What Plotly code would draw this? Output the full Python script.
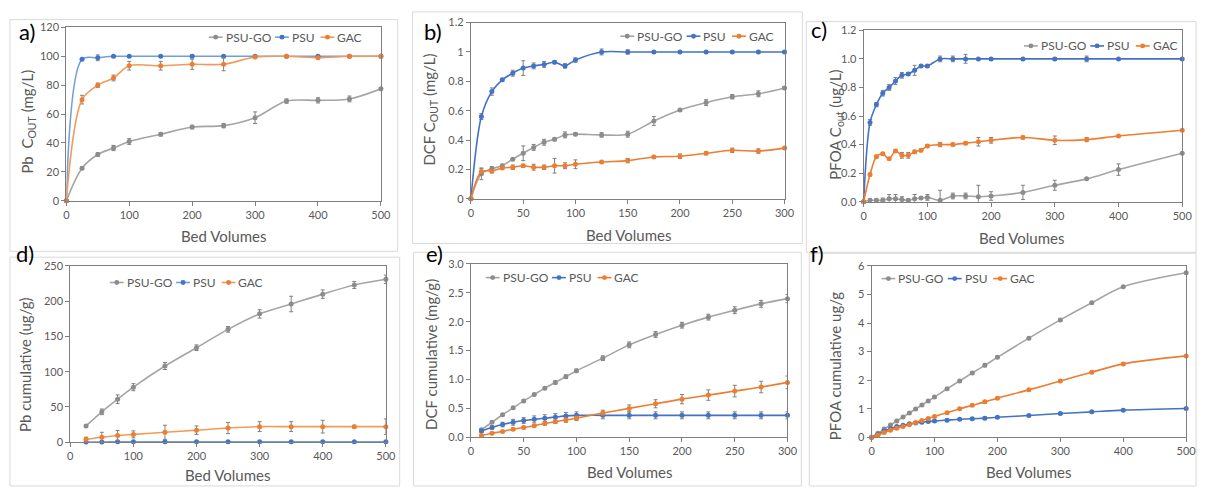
import plotly.graph_objects as go

W, H = 1212, 490
FONT = "Lato"

# ---------------- data ----------------
# a) Pb C_out
bv_a = [0, 25, 50, 75, 100, 150, 200, 250, 300, 350, 400, 450, 500]
pb_psugo = [0, 22.5, 32, 36.5, 41, 46, 51, 52, 57.5, 69, 69.5, 70.5, 77.5]
pb_psugo_err = [0, 1, 1.2, 1.8, 2, 1.2, 1.2, 1.5, 4, 1.5, 1.8, 2, 0.8]
pb_psu = [0, 98, 99, 100, 100, 100, 100, 100, 100, 100, 100, 100, 100]
pb_psu_err = [0, 0.5, 2, 0.5, 0.3, 0.3, 1, 0.3, 0.3, 0.3, 0.3, 0.3, 0.3]
pb_gac = [0, 70, 80, 85, 93.5, 93.5, 94.5, 94.5, 99.5, 100, 99, 100, 100]
pb_gac_err = [0, 3, 1.5, 2, 3, 3, 3.5, 4.5, 0.5, 0.5, 0.5, 0.3, 0.3]

# b) DCF C_out
bv_b = [0, 10, 20, 30, 40, 50, 60, 70, 80, 90, 100, 125, 150, 175, 200, 225, 250, 275, 300]
dcf_psugo = [0, 0.17, 0.205, 0.225, 0.27, 0.31, 0.35, 0.385, 0.405, 0.435, 0.44, 0.435, 0.44, 0.53, 0.605, 0.655, 0.695, 0.715, 0.755]
dcf_psugo_err = [0, 0.04, 0.015, 0.01, 0.005, 0.05, 0.02, 0.02, 0.01, 0.02, 0.01, 0.015, 0.02, 0.03, 0.005, 0.02, 0.015, 0.02, 0.01]
dcf_psu = [0, 0.56, 0.73, 0.81, 0.855, 0.89, 0.905, 0.915, 0.93, 0.905, 0.945, 1.0, 1.0, 1.0, 1.0, 1.0, 1.0, 1.0, 1.0]
dcf_psu_err = [0, 0.02, 0.025, 0.01, 0.02, 0.05, 0.02, 0.02, 0.01, 0.015, 0.015, 0.02, 0.015, 0.005, 0.005, 0.005, 0.005, 0.005, 0.005]
dcf_gac = [0, 0.185, 0.19, 0.21, 0.215, 0.225, 0.215, 0.215, 0.225, 0.225, 0.235, 0.25, 0.26, 0.285, 0.29, 0.31, 0.33, 0.325, 0.345]
dcf_gac_err = [0, 0.02, 0.015, 0.01, 0.015, 0.01, 0.02, 0.015, 0.05, 0.02, 0.03, 0.005, 0.015, 0.01, 0.015, 0.01, 0.015, 0.015, 0.005]

# c) PFOA C_out
bv_c = [0, 10, 20, 30, 40, 50, 60, 70, 80, 90, 100, 120, 140, 160, 180, 200, 250, 300, 350, 400, 500]
pfoa_psugo = [0, 0.01, 0.01, 0.01, 0.02, 0.02, 0.015, 0.01, 0.02, 0.025, 0.03, 0.01, 0.04, 0.04, 0.035, 0.04, 0.065, 0.115, 0.16, 0.225, 0.34]
pfoa_psugo_err = [0, 0.01, 0.01, 0.015, 0.03, 0.03, 0.02, 0.01, 0.03, 0.01, 0.02, 0.07, 0.02, 0.02, 0.08, 0.03, 0.05, 0.035, 0.005, 0.04, 0.005]
pfoa_psu = [0, 0.555, 0.68, 0.76, 0.80, 0.845, 0.885, 0.895, 0.92, 0.95, 0.95, 1.0, 1.0, 1.0, 1.0, 1.0, 1.0, 1.0, 1.0, 1.0, 1.0]
pfoa_psu_err = [0, 0.02, 0.015, 0.02, 0.02, 0.025, 0.02, 0.01, 0.035, 0.01, 0.01, 0.02, 0.02, 0.03, 0.005, 0.005, 0.005, 0.01, 0.02, 0.005, 0.005]
pfoa_gac = [0, 0.19, 0.315, 0.335, 0.30, 0.355, 0.325, 0.325, 0.35, 0.36, 0.39, 0.40, 0.40, 0.41, 0.42, 0.43, 0.45, 0.43, 0.435, 0.46, 0.50]
pfoa_gac_err = [0, 0.01, 0.01, 0.01, 0.005, 0.01, 0.02, 0.02, 0.01, 0.01, 0.01, 0.015, 0.01, 0.01, 0.03, 0.02, 0.01, 0.03, 0.015, 0.005, 0.005]

# d) Pb cumulative
bv_d = [25, 50, 75, 100, 150, 200, 250, 300, 350, 400, 450, 500]
cpb_psugo = [23, 43, 61, 78, 108, 134, 160, 182, 196, 210, 223, 231]
cpb_psugo_err = [2, 4, 6, 5, 5, 4, 4, 6, 11, 6, 5, 6]
cpb_psu = [0.3, 0.3, 0.5, 0.5, 0.5, 0.5, 0.5, 0.5, 0.5, 0.5, 0.5, 0.5]
cpb_psu_err = [0.3, 0.3, 0.3, 0.3, 0.3, 0.3, 0.3, 0.3, 0.3, 0.3, 0.3, 0.3]
cpb_gac = [4, 7, 9.5, 11, 14, 17, 20, 22, 22, 22, 22, 22]
cpb_gac_err = [3, 7, 7, 5, 10, 6, 8, 7, 7, 9, 2, 11]

# e) DCF cumulative
bv_e = [10, 20, 30, 40, 50, 60, 70, 80, 90, 100, 125, 150, 175, 200, 225, 250, 275, 300]
cdcf_psugo = [0.13, 0.26, 0.39, 0.51, 0.63, 0.74, 0.85, 0.95, 1.05, 1.15, 1.37, 1.60, 1.78, 1.94, 2.08, 2.20, 2.31, 2.40]
cdcf_psugo_err = [0.02, 0.02, 0.02, 0.02, 0.02, 0.02, 0.02, 0.03, 0.03, 0.03, 0.04, 0.05, 0.05, 0.05, 0.05, 0.06, 0.06, 0.07]
cdcf_psu = [0.11, 0.17, 0.22, 0.26, 0.29, 0.31, 0.33, 0.35, 0.37, 0.38, 0.38, 0.38, 0.38, 0.38, 0.38, 0.38, 0.38, 0.38]
cdcf_psu_err = [0.03, 0.03, 0.04, 0.05, 0.05, 0.06, 0.06, 0.06, 0.06, 0.06, 0.06, 0.06, 0.06, 0.06, 0.06, 0.06, 0.06, 0.06]
cdcf_gac = [0.03, 0.07, 0.10, 0.14, 0.17, 0.20, 0.24, 0.27, 0.30, 0.33, 0.42, 0.50, 0.58, 0.66, 0.73, 0.80, 0.87, 0.95]
cdcf_gac_err = [0.01, 0.01, 0.01, 0.02, 0.02, 0.02, 0.03, 0.03, 0.04, 0.04, 0.05, 0.06, 0.07, 0.08, 0.09, 0.10, 0.10, 0.11]

# f) PFOA cumulative
bv_f = [0, 10, 20, 30, 40, 50, 60, 70, 80, 90, 100, 120, 140, 160, 180, 200, 250, 300, 350, 400, 500]
cpfoa_psugo = [0, 0.14, 0.29, 0.43, 0.57, 0.71, 0.85, 0.99, 1.13, 1.27, 1.41, 1.70, 1.97, 2.25, 2.52, 2.80, 3.47, 4.11, 4.71, 5.27, 5.76]
cpfoa_psu = [0, 0.09, 0.22, 0.30, 0.38, 0.42, 0.47, 0.50, 0.53, 0.55, 0.57, 0.60, 0.63, 0.65, 0.67, 0.70, 0.76, 0.83, 0.89, 0.95, 1.01]
cpfoa_gac = [0, 0.07, 0.17, 0.25, 0.32, 0.38, 0.44, 0.52, 0.59, 0.66, 0.73, 0.86, 1.00, 1.12, 1.24, 1.37, 1.66, 1.97, 2.28, 2.57, 2.85]
cpfoa_err = [0, 0.02, 0.02, 0.02, 0.02, 0.02, 0.02, 0.02, 0.03, 0.03, 0.03, 0.04, 0.03, 0.03, 0.05, 0.03, 0.03, 0.03, 0.03, 0.03, 0.03]

series_names = ["PSU-GO", "PSU", "GAC"]
line_colors = ["#A5A5A5", "#4472C4", "#ED7D31"]
light_line_colors = ["#A5A5A5", "#6FA0DC", "#F29A5C"]
marker_colors = ["#8C8C8C", "#4472C4", "#ED7D31"]

# ---------------- layout helpers ----------------
def px_x(x):
    return x / W

def px_y(y):
    return 1 - y / H

# plot areas in pixels: (left, right, top, bottom)
areas = [
    (64, 382, 21, 199),
    (473, 790, 16, 197),
    (870, 1192, 24, 200),
    (68, 387, 266, 447),
    (473, 793, 264, 442),
    (878, 1196, 266, 442),
]

panels = [
    dict(x=bv_a, ys=[pb_psugo, pb_psu, pb_gac], errs=[pb_psugo_err, pb_psu_err, pb_gac_err],
         xr=[0, 500], xd=100, yr=[0, 120], yd=20, fmt="", light=True),
    dict(x=bv_b, ys=[dcf_psugo, dcf_psu, dcf_gac], errs=[dcf_psugo_err, dcf_psu_err, dcf_gac_err],
         xr=[0, 300], xd=50, yr=[0, 1.2], yd=0.2, fmt="", light=False),
    dict(x=bv_c, ys=[pfoa_psugo, pfoa_psu, pfoa_gac], errs=[pfoa_psugo_err, pfoa_psu_err, pfoa_gac_err],
         xr=[0, 500], xd=100, yr=[0, 1.2], yd=0.2, fmt=".1f", light=False),
    dict(x=bv_d, ys=[cpb_psugo, cpb_psu, cpb_gac], errs=[cpb_psugo_err, cpb_psu_err, cpb_gac_err],
         xr=[0, 500], xd=100, yr=[0, 250], yd=50, fmt="", light=True),
    dict(x=bv_e, ys=[cdcf_psugo, cdcf_psu, cdcf_gac], errs=[cdcf_psugo_err, cdcf_psu_err, cdcf_gac_err],
         xr=[0, 300], xd=50, yr=[0, 3.0], yd=0.5, fmt=".1f", light=False),
    dict(x=bv_f, ys=[cpfoa_psugo, cpfoa_psu, cpfoa_gac], errs=[cpfoa_err, cpfoa_err, cpfoa_err],
         xr=[0, 500], xd=100, yr=[0, 6], yd=1, fmt="", light=False),
]

# legend: symbol left px, center-y px (one legend per panel)
legend_pos = [(208, 31), (624, 30), (1032, 40), (108, 283), (488, 278), (888, 279)]
legend_offsets = [0, 67, 113]  # px offsets of the three entries

fig = go.Figure()
layout = dict(
    width=W, height=H, margin=dict(l=0, r=0, t=0, b=0),
    paper_bgcolor="white", plot_bgcolor="white",
    font=dict(family=FONT, color="#595959"),
    showlegend=False,
)

shapes = []
annotations = []

for i, (p, area) in enumerate(zip(panels, areas)):
    n = "" if i == 0 else str(i + 1)
    lcols = light_line_colors if p["light"] else line_colors
    for k in range(3):
        fig.add_trace(go.Scatter(
            x=p["x"], y=p["ys"][k], name=series_names[k],
            mode="lines+markers",
            line=dict(color=lcols[k], width=1.6, shape="spline", smoothing=0.9),
            marker=dict(color=marker_colors[k], size=5),
            error_y=dict(type="data", array=p["errs"][k], visible=True,
                         color="#808080", thickness=1, width=2),
            xaxis="x" + n, yaxis="y" + n,
            cliponaxis=False,
        ))
    l, r, t, b = area
    axis_common = dict(showgrid=False, zeroline=False, showline=True, linecolor="#7F7F7F",
                       linewidth=1, mirror=True, ticks="outside", ticklen=4,
                       tickcolor="#7F7F7F", tickfont=dict(family=FONT, size=11, color="#595959"))
    layout["xaxis" + n] = dict(domain=[px_x(l), px_x(r)], range=p["xr"], dtick=p["xd"], tick0=0,
                               anchor="y" + n, **axis_common)
    layout["yaxis" + n] = dict(domain=[px_y(b), px_y(t)], range=p["yr"], dtick=p["yd"], tick0=0,
                               tickformat=p["fmt"], anchor="x" + n, **axis_common)

    # legend entries (line swatch + marker + label)
    lx, ly = legend_pos[i]
    for k in range(3):
        sx = lx + legend_offsets[k]
        shapes.append(dict(type="line", xref="paper", yref="paper",
                           x0=px_x(sx), x1=px_x(sx + 14), y0=px_y(ly), y1=px_y(ly),
                           line=dict(color=lcols[k], width=1.6)))
        shapes.append(dict(type="circle", xref="paper", yref="paper",
                           x0=px_x(sx + 4.5), x1=px_x(sx + 9.5), y0=px_y(ly + 2.5), y1=px_y(ly - 2.5),
                           fillcolor=marker_colors[k], line=dict(color=marker_colors[k], width=0)))
        annotations.append(dict(text=series_names[k], x=px_x(sx + 15), y=px_y(ly),
                                xref="paper", yref="paper", showarrow=False,
                                xanchor="left", yanchor="middle",
                                font=dict(family=FONT, size=12, color="#595959")))

# outer chart frames
frames = [
    (7, 13, 399, 251), (414, 5, 808, 243), (812, 15, 1206, 252),
    (7, 257, 401, 492), (415, 252, 807, 492), (815, 253, 1206, 492),
]
for (x0, y0, x1, y1) in frames:
    shapes.append(dict(type="rect", xref="paper", yref="paper",
                       x0=px_x(x0), x1=px_x(x1), y0=px_y(y1), y1=px_y(y0),
                       line=dict(color="#D9D9D9", width=1), layer="below"))
layout["shapes"] = shapes

# panel labels
labels = [("a)", 24, 25), ("b)", 435, 25), ("c)", 825, 23),
          ("d)", 22, 253), ("e)", 436, 253), ("f)", 823, 253)]
for txt, x, y in labels:
    annotations.append(dict(text=txt, x=px_x(x), y=px_y(y), xref="paper", yref="paper",
                            showarrow=False, xanchor="center", yanchor="middle",
                            font=dict(family=FONT, size=22, color="black")))
# y titles
ytitles = [("Pb  C<sub>OUT</sub> (mg/L)", 25, 118), ("DCF C<sub>OUT</sub> (mg/L)", 432, 105),
           ("PFOA C<sub>out</sub> (ug/L)", 842, 121), ("Pb cumulative (ug/g)", 23, 367),
           ("DCF cumulative (mg/g)", 432, 357), ("PFOA cumulative ug/g", 841, 368)]
for txt, x, y in ytitles:
    annotations.append(dict(text=txt, x=px_x(x), y=px_y(y), xref="paper", yref="paper",
                            showarrow=False, xanchor="center", yanchor="middle", textangle=-90,
                            font=dict(family=FONT, size=15, color="#595959")))
xtitles = [(223, 235), (632, 234), (1030, 237), (227, 481), (633, 478), (1037, 478)]
for x, y in xtitles:
    annotations.append(dict(text="Bed Volumes", x=px_x(x), y=px_y(y), xref="paper", yref="paper",
                            showarrow=False, xanchor="center", yanchor="middle",
                            font=dict(family=FONT, size=15, color="#595959")))
layout["annotations"] = annotations

fig.update_layout(**layout)
fig.write_html("out.html")
